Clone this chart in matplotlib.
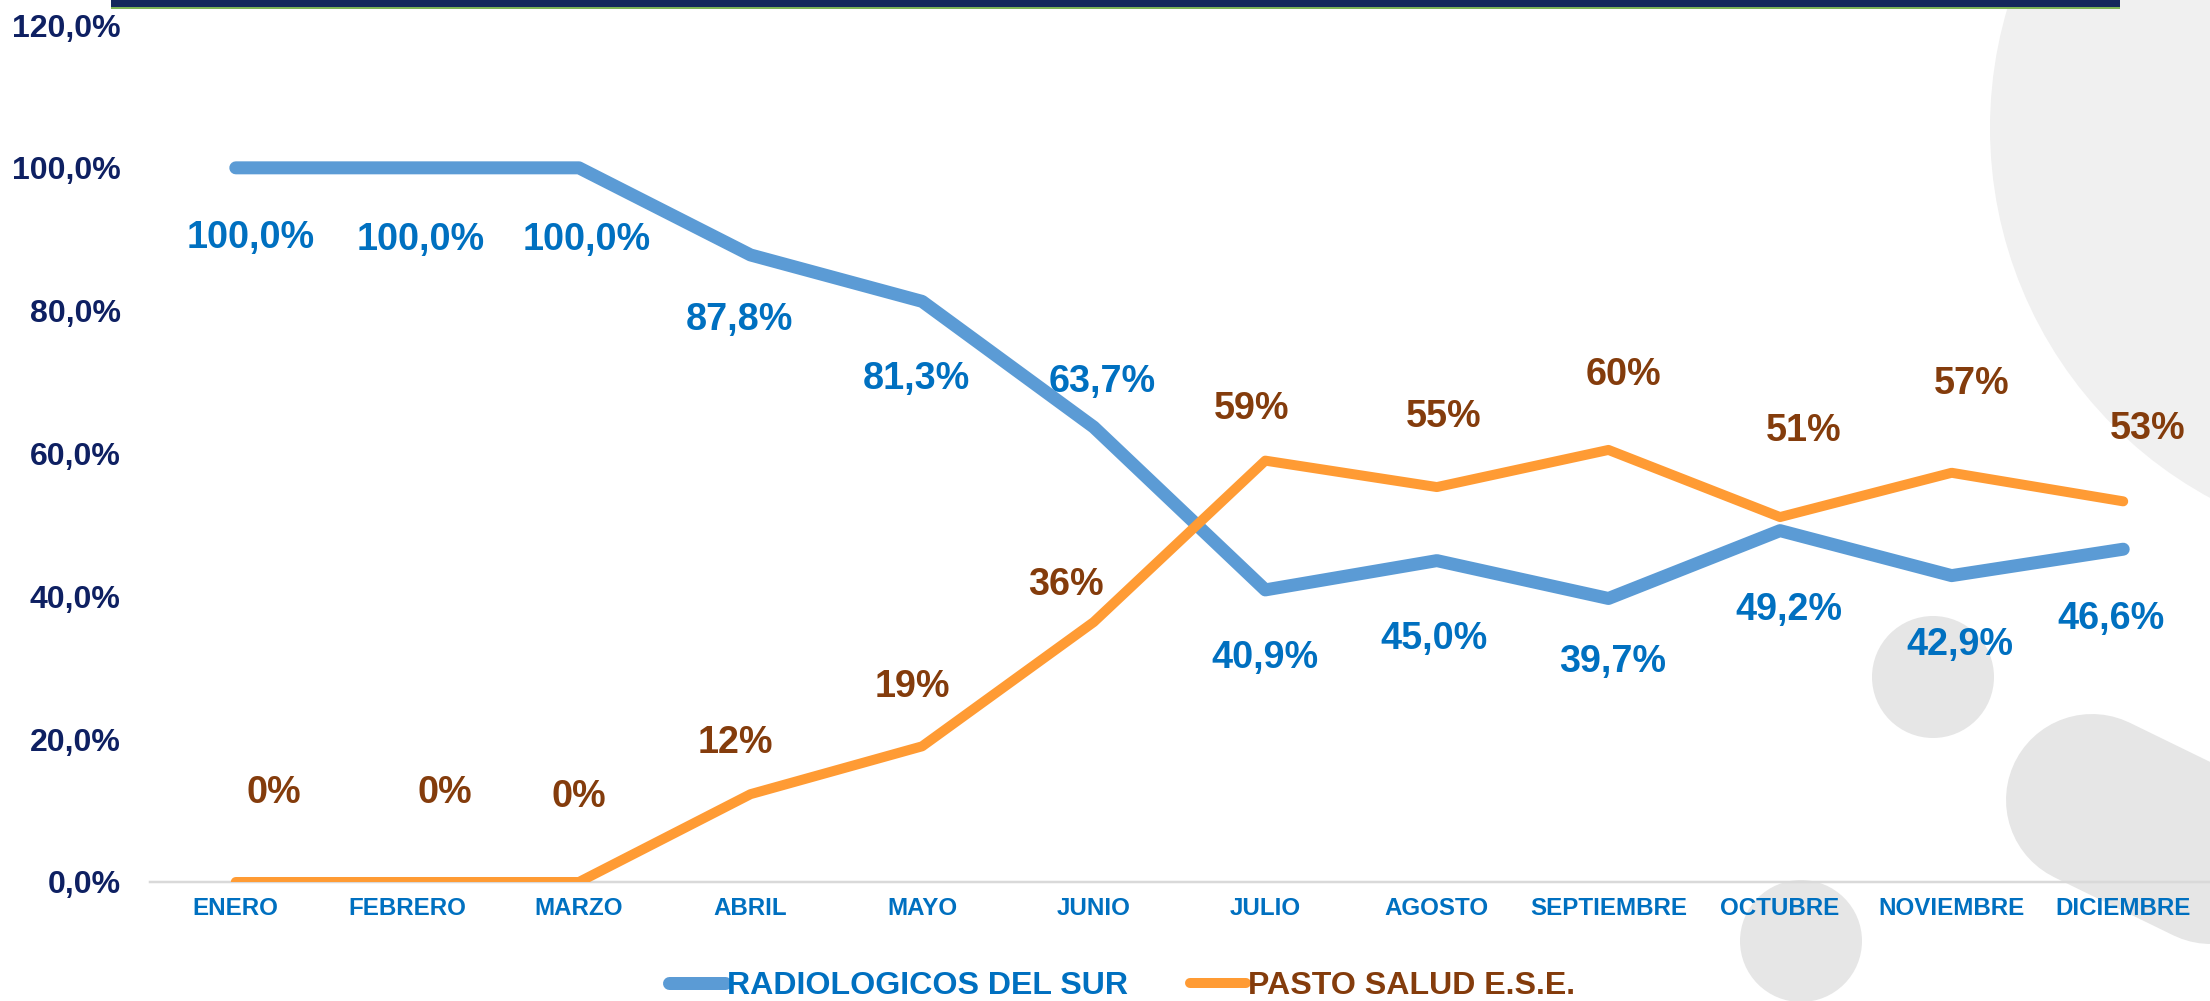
import matplotlib
matplotlib.use("Agg")
import matplotlib.pyplot as plt
from matplotlib.patches import Circle, Rectangle
from matplotlib.lines import Line2D

# ---------------- data ----------------
months = ["ENERO", "FEBRERO", "MARZO", "ABRIL", "MAYO", "JUNIO", "JULIO",
          "AGOSTO", "SEPTIEMBRE", "OCTUBRE", "NOVIEMBRE", "DICIEMBRE"]
radiologicos = [100.0, 100.0, 100.0, 87.8, 81.3, 63.7, 40.9, 45.0, 39.7, 49.2, 42.9, 46.6]
pasto_salud = [0.0, 0.0, 0.0, 12.3, 19.0, 36.4, 59.0, 55.3, 60.5, 51.1, 57.3, 53.3]
series_names = ["RADIOLOGICOS DEL SUR", "PASTO SALUD E.S.E."]
y_ticks = [0, 20, 40, 60, 80, 100, 120]
y_tick_labels = ["0,0%", "20,0%", "40,0%", "60,0%", "80,0%", "100,0%", "120,0%"]

# label offsets (pixels; + = up / right)
blue_dx = [15, 13, 8, -11, -6, 8, 0, -3, 4, 9, 8, -12]
blue_dy = [-70, -72, -72, -65, -78, 45, -68, -78, -64, -79, -69, -70]
orange_dx = [38, 37, 0, -15, -10, -28, -14, 7, 15, 24, 20, 24]
orange_dy = [89, 89, 85, 51, 59, 37, 52, 70, 75, 86, 89, 72]

BLUE_LINE = "#5B9BD5"
ORANGE_LINE = "#FF9B34"
BLUE_TXT = "#0070C0"
BROWN_TXT = "#843C0C"
NAVY_TXT = "#0E2062"

plt.rcParams['font.family'] = ['Liberation Sans', 'DejaVu Sans']
plt.rcParams['font.weight'] = 'bold'

W, H = 2210, 1001
fig = plt.figure(figsize=(W / 100, H / 100), dpi=100)
fig.patch.set_facecolor("white")

# ---------------- decorative background ----------------
bg = fig.add_axes([0, 0, 1, 1], zorder=0)
bg.set_xlim(0, W)
bg.set_ylim(H, 0)
bg.axis("off")
bg.add_patch(Circle((2411, 128), 421, color="#F0F0F0", lw=0))
bg.add_patch(Circle((1933, 677), 61, color="#E6E6E6", lw=0))
bg.add_patch(Circle((1801, 941), 61, color="#E6E6E6", lw=0))
px2pt = 0.72
bg.add_line(Line2D([2092, 2600], [800, 800 + 508 * 0.4877], lw=172 * px2pt,
                   color="#E6E6E6", solid_capstyle="round"))
bg.add_line(Line2D([1940, 2400], [1070, 1070 + 460 * 0.4877], lw=174 * px2pt,
                   color="#E6E6E6", solid_capstyle="round"))
# top band
bg.add_patch(Rectangle((111, 0), 2009, 6.5, color="#14275C", lw=0))
bg.add_patch(Rectangle((111, 6.5), 2009, 2.2, color="#7DB356", lw=0))

# ---------------- main chart ----------------
left = 150 / W
right = 2209 / W
bottom = (H - 882) / H
top = (H - 25) / H
ax = fig.add_axes([left, bottom, right - left, top - bottom], zorder=1)
ax.patch.set_alpha(0)

x = list(range(len(months)))
ax.plot(x, radiologicos, color=BLUE_LINE, lw=13 * px2pt, solid_capstyle="round",
        solid_joinstyle="round", zorder=3)
ax.plot(x, pasto_salud, color=ORANGE_LINE, lw=10 * px2pt, solid_capstyle="round",
        solid_joinstyle="round", zorder=4)

ax.set_xlim(-0.5, len(months) - 0.5)
ax.set_ylim(0, 120)
ax.set_yticks(y_ticks)
ax.set_yticklabels(y_tick_labels)
ax.set_xticks(x)
ax.set_xticklabels(months)

for s in ["top", "right", "left"]:
    ax.spines[s].set_visible(False)
ax.spines["bottom"].set_color("#D9D9D9")
ax.spines["bottom"].set_linewidth(2.5 * px2pt)
ax.spines["bottom"].set_zorder(2)

ax.tick_params(axis="y", length=0, pad=21, labelsize=23, labelcolor=NAVY_TXT)
ax.tick_params(axis="x", length=0, pad=10.5, labelsize=17.4, labelcolor=BLUE_TXT)
for lab in ax.get_xticklabels() + ax.get_yticklabels():
    lab.set_fontweight("bold")

def fmt1(v):
    return f"{v:.1f}".replace(".", ",") + "%"

def fmt0(v):
    return f"{v:.0f}%"

for i, v in enumerate(radiologicos):
    ax.annotate(fmt1(v), (i, v), xytext=(blue_dx[i] * px2pt, blue_dy[i] * px2pt),
                textcoords="offset points", ha="center", va="center",
                fontsize=27.2, fontweight="bold", color=BLUE_TXT, zorder=6)
for i, v in enumerate(pasto_salud):
    ax.annotate(fmt0(v), (i, v), xytext=(orange_dx[i] * px2pt, orange_dy[i] * px2pt),
                textcoords="offset points", ha="center", va="center",
                fontsize=27.2, fontweight="bold", color=BROWN_TXT, zorder=6)

# ---------------- legend ----------------
handles = [Line2D([0], [0], color=BLUE_LINE, lw=13 * px2pt, solid_capstyle="round"),
           Line2D([0], [0], color=ORANGE_LINE, lw=10 * px2pt, solid_capstyle="round")]
leg = fig.legend(handles, series_names, loc="center", ncol=2,
                 bbox_to_anchor=(1122 / W, 1 - 986 / H), frameon=False,
                 prop={"size": 23.1, "weight": "bold"}, handlelength=1.75,
                 handletextpad=0.05, columnspacing=1.95, borderpad=0, borderaxespad=0)
for t, c in zip(leg.get_texts(), [BLUE_TXT, BROWN_TXT]):
    t.set_color(c)

fig.savefig("out.png", dpi=100, facecolor="white")
